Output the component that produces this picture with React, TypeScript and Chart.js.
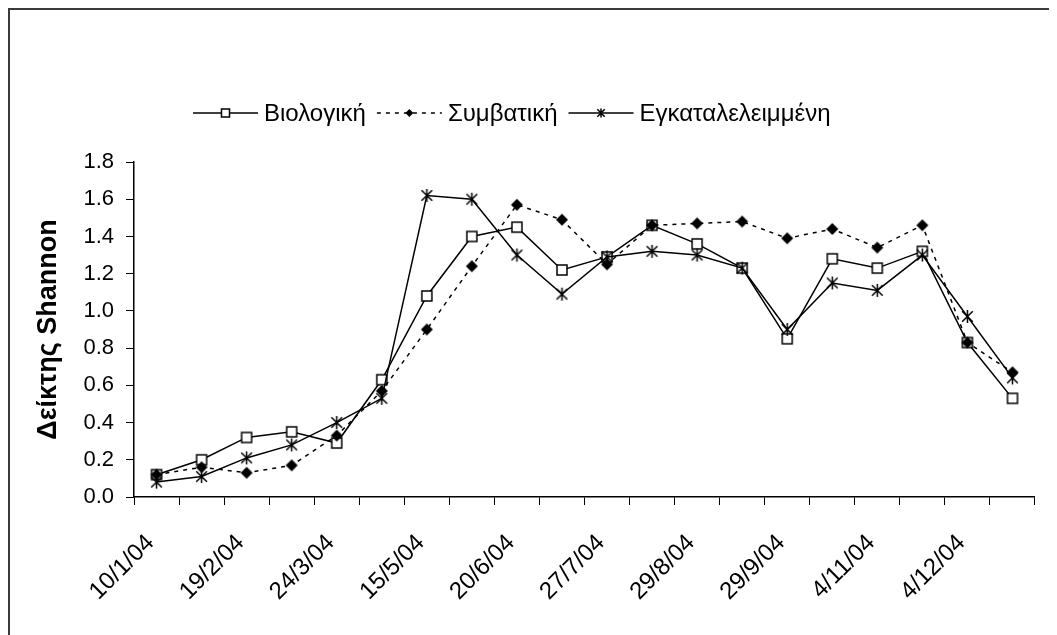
import React, { useEffect, useRef } from 'react';
import { Chart, registerables } from 'chart.js';

Chart.register(...registerables);

const categories = ['10/1/04', '', '19/2/04', '', '24/3/04', '', '15/5/04', '', '20/6/04', '', '27/7/04', '', '29/8/04', '', '29/9/04', '', '4/11/04', '', '4/12/04', ''];
const seriesNames = ['Βιολογική', 'Συμβατική', 'Εγκαταλελειμμένη'];
const biologiki = [0.12, 0.20, 0.32, 0.35, 0.29, 0.63, 1.08, 1.40, 1.45, 1.22, 1.29, 1.46, 1.36, 1.23, 0.85, 1.28, 1.23, 1.32, 0.83, 0.53];
const symvatiki = [0.12, 0.16, 0.13, 0.17, 0.33, 0.57, 0.90, 1.24, 1.57, 1.49, 1.25, 1.46, 1.47, 1.48, 1.39, 1.44, 1.34, 1.46, 0.83, 0.67];
const egkataleleimmeni = [0.08, 0.11, 0.21, 0.28, 0.40, 0.53, 1.62, 1.60, 1.30, 1.09, 1.29, 1.32, 1.30, 1.23, 0.90, 1.15, 1.11, 1.30, 0.97, 0.64];
const yTickValues = [0, 0.2, 0.4, 0.6, 0.8, 1.0, 1.2, 1.4, 1.6, 1.8];
const yTitle = 'Δείκτης Shannon';

const FONT = '"Liberation Sans", Arial, Helvetica, sans-serif';

type Kind = 'square' | 'diamond' | 'star';

function drawMarker(ctx: CanvasRenderingContext2D, kind: Kind, x: number, y: number, r: number) {
  ctx.save();
  ctx.setLineDash([]);
  ctx.strokeStyle = '#000';
  ctx.lineWidth = 1.5;
  if (kind === 'square') {
    ctx.fillStyle = '#fff';
    ctx.fillRect(x - r, y - r, 2 * r, 2 * r);
    ctx.strokeRect(x - r, y - r, 2 * r, 2 * r);
  } else if (kind === 'diamond') {
    ctx.fillStyle = '#000';
    ctx.beginPath();
    ctx.moveTo(x, y - r);
    ctx.lineTo(x + r, y);
    ctx.lineTo(x, y + r);
    ctx.lineTo(x - r, y);
    ctx.closePath();
    ctx.fill();
  } else {
    ctx.beginPath();
    ctx.moveTo(x, y - r);
    ctx.lineTo(x, y + r);
    const d = r * 0.82;
    ctx.moveTo(x - d, y - d);
    ctx.lineTo(x + d, y + d);
    ctx.moveTo(x + d, y - d);
    ctx.lineTo(x - d, y + d);
    ctx.stroke();
  }
  ctx.restore();
}

function markerImage(kind: Kind, r: number): HTMLCanvasElement {
  const size = Math.ceil(2 * r + 4);
  const c = document.createElement('canvas');
  c.width = size;
  c.height = size;
  const ctx = c.getContext('2d') as CanvasRenderingContext2D;
  drawMarker(ctx, kind, size / 2, size / 2, r);
  return c;
}

const kinds: Kind[] = ['square', 'diamond', 'star'];
const dashes: number[][] = [[], [4, 5], []];

const legendPlugin = {
  id: 'customLegend',
  afterDraw(chart: any) {
    const ctx: CanvasRenderingContext2D = chart.ctx;
    const area = chart.chartArea;
    ctx.save();
    ctx.font = `24px ${FONT}`;
    ctx.textBaseline = 'middle';
    ctx.fillStyle = '#000';
    const y = area.top - 49;
    let x = area.left + 59;
    const symW = 65;
    seriesNames.forEach((name, i) => {
      ctx.save();
      ctx.strokeStyle = '#000';
      ctx.lineWidth = 1.5;
      ctx.setLineDash(dashes[i]);
      ctx.beginPath();
      ctx.moveTo(x, y);
      ctx.lineTo(x + symW, y);
      ctx.stroke();
      ctx.restore();
      drawMarker(ctx, kinds[i], x + symW / 2, y, kinds[i] === 'star' ? 4.5 : 4);
      const tx = x + symW + 6;
      ctx.fillText(name, tx, y + 1);
      x = tx + ctx.measureText(name).width + 11;
    });
    ctx.restore();
  },
};

export default function App() {
  const ref = useRef<HTMLCanvasElement | null>(null);

  useEffect(() => {
    document.documentElement.style.overflow = 'hidden';
    document.body.style.overflow = 'hidden';
    if (!ref.current) return;
    Chart.defaults.font.family = FONT;
    const chart = new Chart(ref.current, {
      type: 'line',
      data: {
        labels: categories,
        datasets: [
          {
            label: seriesNames[0],
            data: biologiki,
            borderColor: '#000',
            borderWidth: 1.5,
            pointStyle: markerImage('square', 5),
            pointRadius: 6,
            tension: 0,
            order: 3,
          },
          {
            label: seriesNames[1],
            data: symvatiki,
            borderColor: '#000',
            borderWidth: 1.5,
            borderDash: dashes[1],
            pointStyle: markerImage('diamond', 6),
            pointRadius: 6,
            tension: 0,
            order: 2,
          },
          {
            label: seriesNames[2],
            data: egkataleleimmeni,
            borderColor: '#000',
            borderWidth: 1.5,
            pointStyle: markerImage('star', 6.5),
            pointRadius: 6,
            tension: 0,
            order: 1,
          },
        ],
      },
      options: {
        animation: false,
        responsive: true,
        maintainAspectRatio: false,
        layout: { padding: { top: 152, right: 4, left: 0, bottom: 0 } },
        plugins: {
          legend: { display: false },
          tooltip: { enabled: false },
        },
        scales: {
          x: {
            type: 'category',
            offset: true,
            grid: {
              offset: true,
              drawOnChartArea: false,
              drawTicks: true,
              tickLength: 8,
              color: '#000',
              lineWidth: 1,
            },
            border: { display: true, color: '#000', width: 1.5 },
            ticks: {
              autoSkip: false,
              minRotation: 45,
              maxRotation: 45,
              font: { size: 24, family: FONT },
              color: '#000',
              padding: 24,
              labelOffset: -6,
            },
            afterFit: (s: any) => {
              s.height = 138;
            },
          },
          y: {
            min: 0,
            max: 1.8,
            afterBuildTicks: (s: any) => {
              s.ticks = yTickValues.map((v) => ({ value: v }));
            },
            grid: {
              drawOnChartArea: false,
              drawTicks: true,
              tickLength: 8,
              color: '#000',
              lineWidth: 1,
            },
            border: { display: true, color: '#000', width: 1.5 },
            ticks: {
              font: { size: 22, family: FONT },
              color: '#000',
              padding: 12,
              callback: (v: any) => Number(v).toFixed(1),
            },
            title: {
              display: true,
              text: yTitle,
              color: '#000',
              font: { size: 27, weight: 'bold', family: FONT },
              padding: { top: 22, bottom: 0 },
            },
            afterFit: (s: any) => {
              s.width = 124;
            },
          },
        },
      },
      plugins: [legendPlugin],
    } as any);
    return () => chart.destroy();
  }, []);

  return (
    <div style={{ width: 1047, height: 625, border: '2px solid #3a3a3a', background: '#fff' }}>
      <div style={{ position: 'relative', width: 1047, height: 625 }}>
        <canvas ref={ref} />
      </div>
    </div>
  );
}
